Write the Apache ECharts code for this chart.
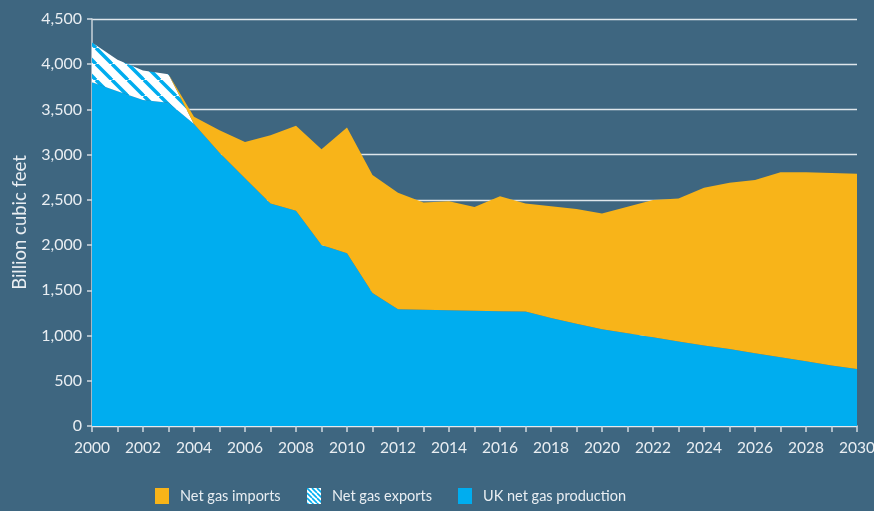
<!DOCTYPE html>
<html>
<head>
<meta charset="utf-8">
<script src="https://cdn.jsdelivr.net/npm/echarts@6/dist/echarts.min.js"></script>
<style>
  html, body { margin: 0; padding: 0; background: #3e6680; }
  #chart { width: 874px; height: 511px; }
</style>
</head>
<body>
<div id="chart"></div>
<script>
(function(){
  'use strict';

  // years along the x axis
  var years = [];
  for (var y = 2000; y <= 2030; y++) years.push(String(y));

  // UK net gas production (blue), billion cubic feet
  var production = [3800, 3700, 3605, 3575, 3340, 3020, 2740, 2460, 2380, 2000,
                    1910, 1470, 1290, 1285, 1280, 1275, 1270, 1265, 1195, 1130,
                    1070, 1025, 980, 935, 890, 850, 805, 760, 715, 670, 630];

  // net gas exports (hatched), on top of production
  var exportsVals = [440, 350, 325, 315, 0, 0, 0, 0, 0, 0,
                     0, 0, 0, 0, 0, 0, 0, 0, 0, 0,
                     0, 0, 0, 0, 0, 0, 0, 0, 0, 0, 0];

  // net gas imports (orange), on top of production
  var imports = [0, 0, 0, 0, 80, 250, 400, 755, 940, 1060,
                 1390, 1305, 1290, 1185, 1205, 1145, 1270, 1195, 1235, 1270,
                 1280, 1400, 1520, 1580, 1745, 1840, 1915, 2045, 2090, 2128, 2160];

  var yTicks = [0, 500, 1000, 1500, 2000, 2500, 3000, 3500, 4000, 4500];

  var BLUE = '#00adef';
  var ORANGE = '#f8b419';
  var TEXT = '#e9eef2';
  var FONT = 'Lato';

  // diagonal hatch: white with blue stripes
  function makeHatch(size, width){
    var c = document.createElement('canvas');
    c.width = size; c.height = size;
    var ctx = c.getContext('2d');
    ctx.fillStyle = '#ffffff';
    ctx.fillRect(0, 0, size, size);
    ctx.strokeStyle = BLUE;
    ctx.lineWidth = width;
    for (var k = -1; k <= 1; k++){
      ctx.beginPath();
      ctx.moveTo(k * size, 0);
      ctx.lineTo(k * size + size, size);
      ctx.stroke();
    }
    return {image: c, repeat: 'repeat'};
  }
  var hatch = makeHatch(16, 3.5);
  var hatchSmall = makeHatch(5, 1.6);

  function legendAt(left, name, color){
    return {
      left: left, top: 488, padding: 0,
      icon: 'rect', itemWidth: 14, itemHeight: 16,
      data: [{name: name, itemStyle: {color: color, borderWidth: 0}}],
      textStyle: {color: TEXT, fontFamily: FONT, fontSize: 14.5, padding: [0, 0, 0, 6]},
      selectedMode: false
    };
  }

  function areaSeries(name, data, color){
    return {
      name: name, type: 'line', stack: 'gas',
      data: data, symbol: 'none', smooth: false,
      lineStyle: {width: 0},
      areaStyle: {color: color, opacity: 1},
      itemStyle: {color: color},
      emphasis: {disabled: true}
    };
  }

  var chart = echarts.init(document.getElementById('chart'));
  chart.setOption({
    backgroundColor: '#3e6680',
    animation: false,
    grid: {left: 92, right: 17, top: 19, bottom: 85, outerBoundsMode: 'none', containLabel: false},
    legend: [
      legendAt(155, 'Net gas imports', ORANGE),
      legendAt(307, 'Net gas exports', hatchSmall),
      legendAt(458, 'UK net gas production', BLUE)
    ],
    xAxis: {
      type: 'category', data: years, boundaryGap: false,
      axisLine: {lineStyle: {color: '#e6ecf0', width: 1.5}},
      axisTick: {interval: 0, length: 6, lineStyle: {color: '#d0d9df', width: 1.5}},
      axisLabel: {interval: 1, color: TEXT, fontFamily: FONT, fontSize: 15.5, margin: 14},
      splitLine: {show: false}
    },
    yAxis: {
      type: 'value', min: yTicks[0], max: yTicks[yTicks.length - 1], interval: 500,
      name: 'Billion cubic feet', nameLocation: 'middle', nameGap: 62, nameRotate: 90,
      nameTextStyle: {color: TEXT, fontFamily: FONT, fontSize: 18.5},
      axisLine: {show: true, lineStyle: {color: '#c9d3da', width: 1.5}},
      axisTick: {show: true, length: 5, lineStyle: {color: '#d0d9df', width: 1.5}},
      axisLabel: {
        color: TEXT, fontFamily: FONT, fontSize: 16, margin: 10,
        formatter: function(v){ return v.toLocaleString('en-US'); }
      },
      splitLine: {lineStyle: {color: '#dfe6eb', width: 1.3}}
    },
    series: [
      areaSeries('UK net gas production', production, BLUE),
      areaSeries('Net gas exports', exportsVals, hatch),
      areaSeries('Net gas imports', imports, ORANGE)
    ]
  });
})();
</script>
</body>
</html>
